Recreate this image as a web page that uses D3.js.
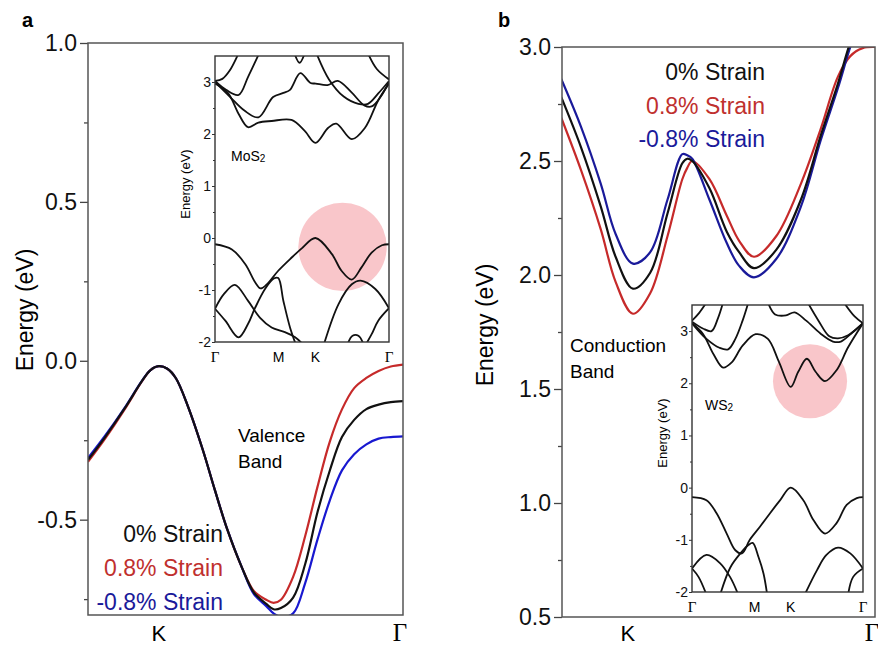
<!DOCTYPE html>
<html>
<head>
<meta charset="utf-8">
<script src="https://cdn.jsdelivr.net/npm/d3@7"></script>
<style>
  body { margin: 0; background: #fff; }
  text { font-family: "Liberation Sans", Arial, sans-serif; }
</style>
</head>
<body>
<svg id="chart" width="878" height="648"></svg>
<script>
// ---- panel a: valence band around K (K = 0, Gamma = 1) ----
const vbK = [-0.29, -0.22, -0.14, -0.07, -0.035, 0, 0.035, 0.07, 0.12, 0.18, 0.23, 0.28, 0.34, 0.39,
  0.44, 0.47, 0.50, 0.55, 0.60, 0.65, 0.70, 0.75, 0.80, 0.85, 0.90, 0.95, 1.0];
const vbStrain0 = [-0.312, -0.24, -0.15, -0.065, -0.03, -0.017, -0.025, -0.055, -0.145, -0.28, -0.408, -0.53, -0.65, -0.73,
  -0.765, -0.782, -0.778, -0.745, -0.638, -0.476, -0.346, -0.24, -0.186, -0.152, -0.138, -0.13, -0.127];
const vbStrainPos = [-0.318, -0.245, -0.153, -0.066, -0.03, -0.017, -0.025, -0.055, -0.145, -0.28, -0.408, -0.53, -0.65, -0.725,
  -0.752, -0.762, -0.752, -0.68, -0.55, -0.396, -0.255, -0.153, -0.086, -0.054, -0.032, -0.018, -0.012];
const vbStrainNeg = [-0.306, -0.236, -0.148, -0.064, -0.03, -0.017, -0.025, -0.055, -0.145, -0.28, -0.408, -0.53, -0.65, -0.735,
  -0.772, -0.795, -0.806, -0.795, -0.698, -0.562, -0.44, -0.345, -0.294, -0.263, -0.245, -0.24, -0.238];

// ---- panel b: conduction band around K ----
const cbK = [-0.27, -0.19, -0.11, -0.05, 0.02, 0.09, 0.16, 0.22, 0.24, 0.26, 0.33, 0.40, 0.45, 0.51,
  0.60, 0.70, 0.78, 0.85, 0.90, 0.95, 1.0];
const cbStrain0 = [2.78, 2.56, 2.30, 2.08, 1.94, 2.01, 2.27, 2.49, 2.51, 2.50, 2.38, 2.19, 2.10, 2.03,
  2.11, 2.33, 2.61, 2.84, 3.02, 3.15, 3.25];
const cbStrainPos = [2.69, 2.46, 2.20, 1.97, 1.83, 1.92, 2.17, 2.42, 2.47, 2.50, 2.42, 2.26, 2.15, 2.08,
  2.17, 2.40, 2.64, 2.87, 2.96, 2.995, 3.0];
const cbStrainNeg = [2.86, 2.65, 2.40, 2.18, 2.05, 2.10, 2.33, 2.53, 2.525, 2.51, 2.33, 2.14, 2.04, 1.99,
  2.07, 2.30, 2.59, 2.82, 3.0, 3.15, 3.25];

const strainLabels = ["0% Strain", "0.8% Strain", "-0.8% Strain"];
const ticksA = [1.0, 0.5, 0.0, -0.5];
const minorTicksA = [0.75, 0.25, -0.25, -0.75];
const ticksB = [3.0, 2.5, 2.0, 1.5, 1.0, 0.5];
const minorTicksB = [2.75, 2.25, 1.75, 1.25, 0.75];

// ---- insets: full band structure along Γ-M-K-Γ ----
const pathLabels = ["Γ", "M", "K", "Γ"];
const pathPos = [0, 0.866, 1.366, 2.366];
const insetTicks = [-2, -1, 0, 1, 2, 3];
const insetMinor = [-1.5, -0.5, 0.5, 1.5, 2.5];

const mos2Bands = [
  [[0,2.97],[0.18,2.78],[0.32,2.39],[0.45,2.13],[0.59,2.22],[0.77,2.25],[1.04,2.27],[1.22,2.06],[1.366,1.83],[1.54,2.12],[1.65,2.2],[1.86,1.9],[2.04,2.12],[2.22,2.65],[2.366,2.97]],
  [[0,3.0],[0.2,2.72],[0.4,2.45],[0.59,2.32],[0.79,2.71],[0.93,2.79],[1.02,2.85],[1.16,3.17],[1.3,2.98],[1.37,2.97],[1.53,2.94],[1.67,3.02],[1.85,2.81],[2.03,2.55],[2.13,2.53],[2.25,2.71],[2.366,3.0]],
  [[0,3.02],[0.1,3.06],[0.2,3.22],[0.32,3.55]],
  [[0,3.02],[0.15,2.85],[0.32,2.75],[0.45,3.1],[0.6,3.55]],
  [[1.08,3.55],[1.15,3.37],[1.22,3.55]],
  [[1.38,3.55],[1.55,3.05],[1.75,2.72],[1.95,2.58],[2.08,2.58],[2.22,2.78],[2.366,3.02]],
  [[2.08,3.55],[2.2,3.25],[2.366,3.05]],
  [[0,-0.12],[0.23,-0.22],[0.41,-0.5],[0.55,-0.86],[0.62,-0.97],[0.7,-0.9],[0.86,-0.63],[1.04,-0.38],[1.18,-0.2],[1.366,0],[1.59,-0.31],[1.72,-0.63],[1.86,-0.8],[1.99,-0.57],[2.13,-0.28],[2.27,-0.14],[2.366,-0.12]],
  [[0,-1.36],[0.12,-1.08],[0.27,-0.9],[0.45,-1.21],[0.61,-1.53],[0.77,-1.72],[0.95,-1.81],[1.09,-1.91],[1.2,-2.05]],
  [[0,-1.36],[0.14,-1.59],[0.32,-1.91],[0.45,-1.65],[0.54,-1.36],[0.68,-0.98],[0.8,-0.78],[0.86,-0.77],[0.93,-1.21],[1.02,-1.72],[1.1,-2.05]],
  [[1.48,-2.05],[1.68,-1.27],[1.86,-0.89],[1.98,-0.82],[2.18,-0.98],[2.366,-1.35]],
  [[2.05,-2.05],[2.13,-1.85],[2.22,-1.59],[2.366,-1.35]],
  [[1.8,-2.05],[1.87,-1.88],[1.95,-1.88],[2.02,-2.05]]
];

const ws2Bands = [
  [[0,3.15],[0.15,2.95],[0.3,2.55],[0.43,2.3],[0.55,2.4],[0.7,2.72],[0.88,2.94],[1.05,2.85],[1.2,2.42],[1.366,1.93],[1.47,2.22],[1.59,2.47],[1.71,2.22],[1.84,2.04],[2.0,2.25],[2.16,2.69],[2.366,3.15]],
  [[0,3.15],[0.2,2.85],[0.38,2.68],[0.5,2.65],[0.6,2.85],[0.7,3.2],[0.78,3.55]],
  [[0,3.18],[0.15,3.05],[0.27,3.0],[0.36,3.25],[0.43,3.55]],
  [[0,3.2],[0.1,3.35],[0.2,3.55]],
  [[1.05,3.55],[1.15,3.32],[1.3,3.3],[1.42,3.36],[1.58,3.2],[1.78,2.95],[1.95,2.8],[2.06,2.8],[2.2,2.95],[2.366,3.15]],
  [[1.6,3.55],[1.75,3.2],[1.9,2.9],[2.02,2.86],[2.16,2.92],[2.366,3.15]],
  [[2.1,3.55],[2.25,3.28],[2.366,3.15]],
  [[0,-0.18],[0.2,-0.24],[0.34,-0.49],[0.48,-0.88],[0.6,-1.2],[0.69,-1.26],[0.8,-1.0],[0.94,-0.75],[1.08,-0.49],[1.22,-0.24],[1.366,0],[1.54,-0.24],[1.68,-0.62],[1.84,-0.88],[2.0,-0.68],[2.14,-0.33],[2.28,-0.2],[2.366,-0.18]],
  [[0.39,-2.05],[0.53,-1.53],[0.67,-1.26],[0.78,-1.1],[0.84,-1.06],[0.92,-1.33],[0.99,-1.65],[1.04,-2.05]],
  [[0,-1.55],[0.2,-1.29],[0.39,-1.45],[0.53,-1.72],[0.64,-2.05]],
  [[0,-1.55],[0.09,-1.71],[0.2,-2.05]],
  [[1.56,-2.05],[1.73,-1.58],[1.86,-1.29],[2.02,-1.15],[2.19,-1.26],[2.366,-1.55]],
  [[2.366,-1.55],[2.23,-1.71],[2.16,-2.05]]
];

// highlighted region [k, E, radius in eV]
const mos2Circle = [1.734, -0.17, 0.85];
const ws2Circle = [1.633, 2.04, 0.71];

const red = "#c62a2a", blue = "#1818d0", navy = "#1a1a9a", black = "#111";

const svg = d3.select("#chart");

function drawMain(cfg) {
  const x = d3.scaleLinear().domain(cfg.xDomain).range([cfg.left, cfg.right]);
  const y = d3.scaleLinear().domain(cfg.yDomain).range([cfg.bottom, cfg.top]);
  const g = svg.append("g");

  svg.append("clipPath").attr("id", cfg.id + "-clip")
    .append("rect")
    .attr("x", cfg.left).attr("y", cfg.top)
    .attr("width", cfg.right - cfg.left).attr("height", cfg.bottom - cfg.top);

  // minor + major y ticks
  g.append("g").attr("transform", "translate(" + cfg.left + ",0)")
    .call(d3.axisLeft(y).tickValues(cfg.minor).tickSize(4).tickFormat(""))
    .call((a) => a.select(".domain").remove());
  g.append("g").attr("transform", "translate(" + cfg.left + ",0)")
    .call(d3.axisLeft(y).tickValues(cfg.major).tickSize(8).tickPadding(3).tickFormat((d) => d.toFixed(1)))
    .call((a) => a.select(".domain").remove())
    .call((a) => a.selectAll("text").style("font-size", "23px").attr("fill", "#111"));
  g.selectAll(".tick line").attr("stroke", "#444").attr("stroke-width", 1.3);

  const line = d3.line()
    .x((d) => x(d[0]))
    .y((d) => y(d[1]))
    .curve(d3.curveCatmullRom.alpha(0.5));

  cfg.series.forEach((s) => {
    g.append("path")
      .datum(cfg.k.map((k, i) => [k, s.values[i]]))
      .attr("clip-path", "url(#" + cfg.id + "-clip)")
      .attr("fill", "none")
      .attr("stroke", s.color)
      .attr("stroke-width", 2.2)
      .attr("d", line);
  });

  g.append("rect")
    .attr("x", cfg.left).attr("y", cfg.top)
    .attr("width", cfg.right - cfg.left).attr("height", cfg.bottom - cfg.top)
    .attr("fill", "none").attr("stroke", "#555").attr("stroke-width", 1.5);

  // x labels: K and Gamma
  g.append("text").attr("x", x(0)).attr("y", cfg.labelY)
    .attr("text-anchor", "middle").style("font-size", "22px").text("K");
  g.append("text").attr("x", x(1) - 3).attr("y", cfg.labelY)
    .attr("text-anchor", "middle").style("font-size", "25px")
    .style("font-family", "'Liberation Serif', 'Times New Roman', serif").text("Γ");

  g.append("text")
    .attr("transform", "translate(" + cfg.yLabelX + "," + cfg.yLabelY + ") rotate(-90)")
    .attr("text-anchor", "middle").style("font-size", "23px").text("Energy (eV)");

  g.append("text").attr("x", cfg.panelX).attr("y", 27)
    .style("font-size", "20px").style("font-weight", "bold").text(cfg.id);

  return { x, y, g };
}

function drawInset(cfg) {
  const x = d3.scaleLinear().domain([0, 2.366]).range([cfg.left, cfg.right]);
  const y = d3.scaleLinear().domain([-2, 3.5]).range([cfg.bottom, cfg.top]);
  const g = svg.append("g");

  g.append("rect")
    .attr("x", cfg.left).attr("y", cfg.top)
    .attr("width", cfg.right - cfg.left).attr("height", cfg.bottom - cfg.top)
    .attr("fill", "#fff");

  svg.append("clipPath").attr("id", cfg.id + "-clip")
    .append("rect")
    .attr("x", cfg.left).attr("y", cfg.top)
    .attr("width", cfg.right - cfg.left).attr("height", cfg.bottom - cfg.top);

  const c = cfg.circle;
  g.append("circle")
    .attr("cx", x(c[0])).attr("cy", y(c[1]))
    .attr("r", y(0) - y(c[2]))
    .attr("fill", "#f9c6ca");

  const line = d3.line()
    .x((d) => x(d[0]))
    .y((d) => y(d[1]))
    .curve(d3.curveCatmullRom.alpha(0.5));

  g.append("g").attr("clip-path", "url(#" + cfg.id + "-clip)")
    .selectAll("path")
    .data(cfg.bands)
    .enter()
    .append("path")
    .attr("fill", "none")
    .attr("stroke", "#111")
    .attr("stroke-width", 1.8)
    .attr("d", line);

  g.append("rect")
    .attr("x", cfg.left).attr("y", cfg.top)
    .attr("width", cfg.right - cfg.left).attr("height", cfg.bottom - cfg.top)
    .attr("fill", "none").attr("stroke", "#333").attr("stroke-width", 1.4);

  g.append("g").attr("transform", "translate(" + cfg.left + ",0)")
    .call(d3.axisLeft(y).tickValues(insetMinor).tickSize(2).tickFormat(""))
    .call((a) => a.select(".domain").remove());
  g.append("g").attr("transform", "translate(" + cfg.left + ",0)")
    .call(d3.axisLeft(y).tickValues(insetTicks).tickSize(3).tickPadding(1).tickFormat((d) => d))
    .call((a) => a.select(".domain").remove())
    .call((a) => a.selectAll("text").style("font-size", "14px").attr("fill", "#111"));
  g.selectAll(".tick line").attr("stroke", "#333");

  g.selectAll(".plabel")
    .data(pathLabels)
    .enter()
    .append("text")
    .attr("x", (d, i) => x(pathPos[i]))
    .attr("y", cfg.bottom + 20)
    .attr("text-anchor", "middle")
    .style("font-size", (d) => (d === "Γ" ? "15px" : "14px"))
    .style("font-family", (d) => (d === "Γ" ? "'Liberation Serif', serif" : null))
    .text((d) => d);

  g.append("text")
    .attr("transform", "translate(" + (cfg.left - 25) + "," + (cfg.top + 128) + ") rotate(-90)")
    .attr("text-anchor", "middle").style("font-size", "13px").text("Energy (eV)");

  const name = g.append("text").attr("x", cfg.nameX).attr("y", cfg.nameY).style("font-size", "14px");
  name.append("tspan").text(cfg.name);
  name.append("tspan").attr("dy", 1).style("font-size", "10px").text("2");
}

// panel a
drawMain({
  id: "a", left: 88, right: 403, top: 43, bottom: 615,
  xDomain: [-0.29, 1.0], yDomain: [-0.8, 1.0],
  major: ticksA, minor: minorTicksA,
  k: vbK,
  series: [
    { values: vbStrainPos, color: red },
    { values: vbStrainNeg, color: blue },
    { values: vbStrain0, color: black }
  ],
  labelY: 641, yLabelX: 33, yLabelY: 310, panelX: 22
});

drawInset({
  id: "ia", left: 215, right: 389, top: 56, bottom: 342,
  bands: mos2Bands, circle: mos2Circle, name: "MoS", nameX: 231, nameY: 161
});

const legA = svg.append("g");
[black, "#c0302e", navy].forEach((col, i) => {
  legA.append("text")
    .attr("x", 223).attr("y", 542 + i * 34)
    .attr("text-anchor", "end").attr("fill", col)
    .style("font-size", "23px").text(strainLabels[i]);
});
svg.append("text").attr("x", 238).attr("y", 442).style("font-size", "19px").text("Valence");
svg.append("text").attr("x", 238).attr("y", 468).style("font-size", "19px").text("Band");

// panel b
drawMain({
  id: "b", left: 562, right: 875, top: 47, bottom: 617,
  xDomain: [-0.267, 1.0], yDomain: [0.5, 3.0],
  major: ticksB, minor: minorTicksB,
  k: cbK,
  series: [
    { values: cbStrainPos, color: red },
    { values: cbStrainNeg, color: navy },
    { values: cbStrain0, color: black }
  ],
  labelY: 641, yLabelX: 493, yLabelY: 325, panelX: 498
});

drawInset({
  id: "ib", left: 692, right: 863, top: 305, bottom: 592,
  bands: ws2Bands, circle: ws2Circle, name: "WS", nameX: 705, nameY: 410
});

const legB = svg.append("g");
[black, "#c0302e", navy].forEach((col, i) => {
  legB.append("text")
    .attr("x", 765).attr("y", 80 + i * 33.5)
    .attr("text-anchor", "end").attr("fill", col)
    .style("font-size", "23px").text(strainLabels[i]);
});
svg.append("text").attr("x", 570).attr("y", 352).style("font-size", "19px").text("Conduction");
svg.append("text").attr("x", 570).attr("y", 378).style("font-size", "19px").text("Band");
</script>
</body>
</html>
